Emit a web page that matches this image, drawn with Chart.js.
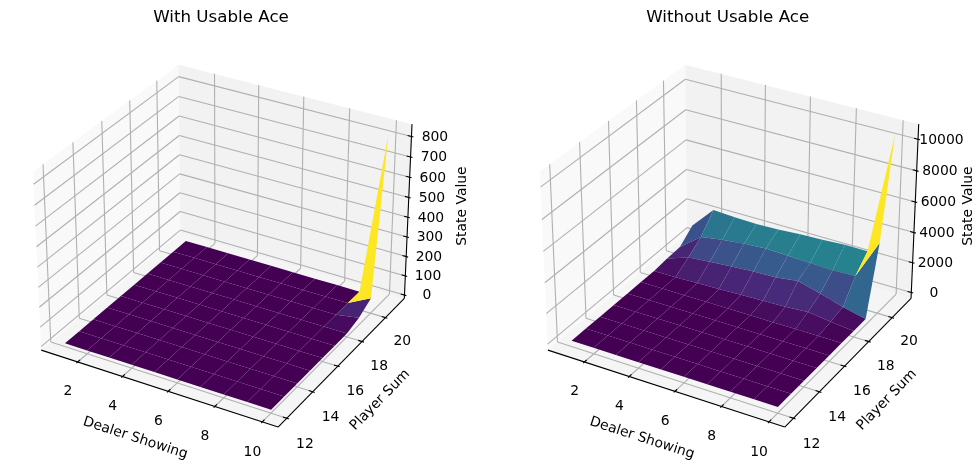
<!DOCTYPE html>
<html>
<head>
<meta charset="utf-8">
<script src="https://cdn.jsdelivr.net/npm/chart.js@4.4.0/dist/chart.umd.min.js"></script>
<style>
  html, body { margin: 0; padding: 0; background: #fff; }
  #wrap { position: relative; width: 978px; height: 470px; }
  canvas { position: absolute; top: 0; }
</style>
</head>
<body>
<div id="wrap">
  <canvas id="left" width="489" height="470" style="left:0"></canvas>
  <canvas id="right" width="489" height="470" style="left:489px"></canvas>
</div>
<script>
'use strict';

// Axes of both surfaces
const dealerShowing = [1, 2, 3, 4, 5, 6, 7, 8, 9, 10];
const playerSum = [12, 13, 14, 15, 16, 17, 18, 19, 20, 21];
const dealerTicks = [2, 4, 6, 8, 10];
const playerTicks = [12, 14, 16, 18, 20];
const aceValueTicks = [0, 100, 200, 300, 400, 500, 600, 700, 800];
const noAceValueTicks = [0, 2000, 4000, 6000, 8000, 10000];

// State values, one row per player sum (12..21), one column per dealer card (1..10)
const usableAceValues = [
  [0, 0, 0, 0, 0, 0, 0, 0, 0, 0],
  [0, 0, 0, 0, 0, 0, 0, 0, 0, 0],
  [0, 0, 0, 0, 0, 0, 0, 0, 0, 0],
  [0, 0, 0, 0, 0, 0, 0, 0, 0, 0],
  [0, 0, 0, 0, 0, 0, 0, 0, 0, 0],
  [0, 0, 0, 0, 0, 0, 0, 0, 0, 0],
  [0, 0, 0, 0, 0, 0, 0, 0, 0, 0],
  [0, 0, 0, 0, 0, 0, 0, 0, 0, 20],
  [0, 0, 0, 0, 0, 0, 0, 0, 0, 60],
  [0, 0, 0, 0, 0, 0, 0, 0, 0, 825]
];
const noUsableAceValues = [
  [0, 0, 0, 0, 0, 0, 0, 0, 0, 0],
  [0, 0, 0, 0, 0, 0, 0, 0, 0, 0],
  [0, 0, 0, 0, 0, 0, 0, 0, 0, 0],
  [0, 0, 0, 0, 0, 0, 0, 0, 0, 0],
  [0, 0, 0, 0, 0, 0, 0, 0, 0, 0],
  [0, 0, 0, 0, 0, 0, 0, 0, 0, 0],
  [0, 0, 50, 100, 150, 200, 250, 350, 150, 0],
  [100, 600, 750, 850, 950, 1000, 1200, 800, 350, 0],
  [150, 1250, 1500, 1650, 1750, 1700, 1650, 1600, 1650, 4250],
  [900, 2370, 2300, 2250, 2300, 2400, 2450, 2550, 2550, 10500]
];

// View box limits (data units) shared by both panels
const X_LIM = [0.34375, 10.65625];
const Y_LIM = [11.34375, 21.65625];
const SCALE = 2375;            // pixels per projected unit
const CW = 489, CH = 470;
const FONT = '"DejaVu Sans", sans-serif';

const panels = [
  { canvas: 'left', title: 'With Usable Ace', values: usableAceValues, zTicks: aceValueTicks,
    zLim: [-17.5, 860], ox: 226, oy: 237.5 },
  { canvas: 'right', title: 'Without Usable Ace', values: noUsableAceValues, zTicks: noAceValueTicks,
    zLim: [-400, 10950], ox: 243.7, oy: 237.5 }
];

// viridis stops
const VIRIDIS = ['#440154', '#48186a', '#482475', '#472d7b', '#414487', '#3b528b', '#355f8d', '#2f6c8e',
  '#2a788e', '#25848e', '#21918c', '#1e9c89', '#22a884', '#2fb47c', '#44bf70', '#5ec962', '#7ad151',
  '#9bd93c', '#bddf26', '#dfe318', '#fde725'];
function viridis(t) {
  t = Math.max(0, Math.min(1, t)) * (VIRIDIS.length - 1);
  const i = Math.min(Math.floor(t), VIRIDIS.length - 2), f = t - i;
  const a = VIRIDIS[i], b = VIRIDIS[i + 1];
  const c = k => Math.round(parseInt(a.substr(k, 2), 16) * (1 - f) + parseInt(b.substr(k, 2), 16) * f);
  return `rgb(${c(1)},${c(3)},${c(5)})`;
}

// Perspective camera like mplot3d: elev 30, azim -60, box aspect 4:4:3
function makeProjector(zLim) {
  const n = Math.hypot(4, 4, 3);
  const box = [4, 4, 3].map(a => a * 1.8294640721620434 / n);
  const lims = [X_LIM, Y_LIM, zLim];
  const el = 30 * Math.PI / 180, az = -60 * Math.PI / 180;
  const w = [Math.cos(el) * Math.cos(az), Math.cos(el) * Math.sin(az), Math.sin(el)];
  const eye = box.map((b, i) => b / 2 + 10 * w[i]);
  const un = Math.hypot(w[0], w[1]);
  const u = [-w[1] / un, w[0] / un, 0];
  const v = [w[1] * u[2] - w[2] * u[1], w[2] * u[0] - w[0] * u[2], w[0] * u[1] - w[1] * u[0]];
  const world = (x, y, z) => [x, y, z].map((c, i) => (c - lims[i][0]) / (lims[i][1] - lims[i][0]) * box[i]);
  const project = p => {
    const d = p.map((c, i) => c - eye[i]);
    const dot = a => a[0] * d[0] + a[1] * d[1] + a[2] * d[2];
    const depth = -dot(w);
    return { x: dot(u) / depth, y: dot(v) / depth, depth };
  };
  return { box, world, project };
}

function surfacePlugin(panel, proj) {
  return {
    id: 'surface3d',
    beforeDatasetsDraw(chart) {
      const ctx = chart.ctx;
      const sx = chart.scales.x, sy = chart.scales.y;
      const at = wp => { const p = proj.project(wp); return [sx.getPixelForValue(p.x), sy.getPixelForValue(p.y)]; };
      const [A, B, C] = proj.box;
      const wx = x => proj.world(x, Y_LIM[0], 0)[0];
      const wy = y => proj.world(X_LIM[0], y, 0)[1];
      const wz = z => proj.world(X_LIM[0], Y_LIM[0], z)[2];

      const poly = (pts, fill) => {
        ctx.beginPath();
        pts.forEach((p, i) => { const q = at(p); i ? ctx.lineTo(q[0], q[1]) : ctx.moveTo(q[0], q[1]); });
        ctx.closePath();
        ctx.fillStyle = fill;
        ctx.fill();
      };
      const line = (p1, p2, color, lw) => {
        const a = at(p1), b = at(p2);
        ctx.beginPath();
        ctx.moveTo(a[0], a[1]);
        ctx.lineTo(b[0], b[1]);
        ctx.strokeStyle = color;
        ctx.lineWidth = lw;
        ctx.stroke();
      };
      const text = (str, p, rot, size) => {
        const q = at(p);
        ctx.save();
        ctx.translate(q[0], q[1]);
        ctx.rotate(rot || 0);
        ctx.font = `${size || 13.9}px ${FONT}`;
        ctx.fillStyle = '#000';
        ctx.textAlign = 'center';
        ctx.textBaseline = 'middle';
        ctx.fillText(str, 0, 0);
        ctx.restore();
      };
      const angle = (p1, p2) => { const a = at(p1), b = at(p2); return Math.atan2(b[1] - a[1], b[0] - a[0]); };

      // panes
      poly([[0, 0, 0], [0, B, 0], [0, B, C], [0, 0, C]], '#f9f9f9');
      poly([[0, B, 0], [A, B, 0], [A, B, C], [0, B, C]], '#f2f2f2');
      poly([[0, 0, 0], [A, 0, 0], [A, B, 0], [0, B, 0]], '#f5f5f5');

      // grid
      const grid = '#b0b0b0', glw = 1.1;
      dealerTicks.forEach(t => {
        const x = wx(t);
        line([x, 0, 0], [x, B, 0], grid, glw);
        line([x, B, 0], [x, B, C], grid, glw);
      });
      playerTicks.forEach(t => {
        const y = wy(t);
        line([0, y, 0], [A, y, 0], grid, glw);
        line([0, y, 0], [0, y, C], grid, glw);
      });
      panel.zTicks.forEach(t => {
        const z = wz(t);
        line([0, 0, z], [0, B, z], grid, glw);
        line([0, B, z], [A, B, z], grid, glw);
      });

      // axis lines, ticks and labels
      const tick = 0.0914;
      line([0, 0, 0], [A, 0, 0], '#000', 1.1);
      line([A, 0, 0], [A, B, 0], '#000', 1.1);
      line([A, B, 0], [A, B, C], '#000', 1.1);
      dealerTicks.forEach(t => {
        const x = wx(t);
        line([x, -0.1 * tick, 0], [x, 0.2 * tick, 0], '#000', 1.1);
        text(String(t), [x, -0.08, -0.10]);
      });
      playerTicks.forEach(t => {
        const y = wy(t);
        line([A + 0.1 * tick, y, 0], [A - 0.2 * tick, y, 0], '#000', 1.1);
        text(String(t), [A + 0.085, y, -0.097]);
      });
      panel.zTicks.forEach(t => {
        const z = wz(t);
        line([A + 0.1 * tick, B, z], [A - 0.2 * tick, B, z], '#000', 1.1);
        text(String(t), [A + 0.088, B + 0.044, z]);
      });
      text('Dealer Showing', [A / 2, -0.172, -0.149], angle([0, 0, 0], [A, 0, 0]));
      text('Player Sum', [A + 0.175, B / 2, -0.143], angle([A, 0, 0], [A, B, 0]));
      text('State Value', [A + 0.174, B + 0.172, C / 2], -Math.PI / 2);

      // surface faces, far to near, coloured by mean height
      const vals = panel.values;
      const faces = [];
      for (let i = 0; i < playerSum.length - 1; i++) {
        for (let j = 0; j < dealerShowing.length - 1; j++) {
          const idx = [[i, j], [i, j + 1], [i + 1, j + 1], [i + 1, j]];
          const corners = idx.map(([r, c]) => proj.world(dealerShowing[c], playerSum[r], vals[r][c]));
          const avg = idx.reduce((s, [r, c]) => s + vals[r][c], 0) / 4;
          const depth = corners.reduce((s, p) => s + proj.project(p).depth, 0) / 4;
          faces.push({ corners, avg, depth });
        }
      }
      const lo = Math.min(...faces.map(f => f.avg)), hi = Math.max(...faces.map(f => f.avg));
      faces.sort((a, b) => b.depth - a.depth);
      faces.forEach(f => poly(f.corners, viridis((f.avg - lo) / (hi - lo || 1))));

      // title
      ctx.save();
      ctx.font = `16.7px ${FONT}`;
      ctx.fillStyle = '#000';
      ctx.textAlign = 'center';
      ctx.textBaseline = 'middle';
      ctx.fillText(panel.title, panel.ox - 5, 18);
      ctx.restore();
    }
  };
}

function makeChart(panel) {
  const proj = makeProjector(panel.zLim);
  const points = [];
  playerSum.forEach((p, r) => dealerShowing.forEach((d, c) => {
    const q = proj.project(proj.world(d, p, panel.values[r][c]));
    points.push({ x: q.x, y: q.y });
  }));
  return new Chart(document.getElementById(panel.canvas), {
    type: 'scatter',
    data: { datasets: [{ data: points, pointRadius: 0, showLine: false }] },
    options: {
      responsive: false,
      animation: false,
      events: [],
      layout: { padding: 0 },
      plugins: { legend: { display: false }, tooltip: { enabled: false } },
      scales: {
        x: { type: 'linear', display: false, min: -panel.ox / SCALE, max: (CW - panel.ox) / SCALE },
        y: { type: 'linear', display: false, min: (panel.oy - CH) / SCALE, max: panel.oy / SCALE }
      }
    },
    plugins: [surfacePlugin(panel, proj)]
  });
}

panels.forEach(makeChart);
</script>
</body>
</html>
